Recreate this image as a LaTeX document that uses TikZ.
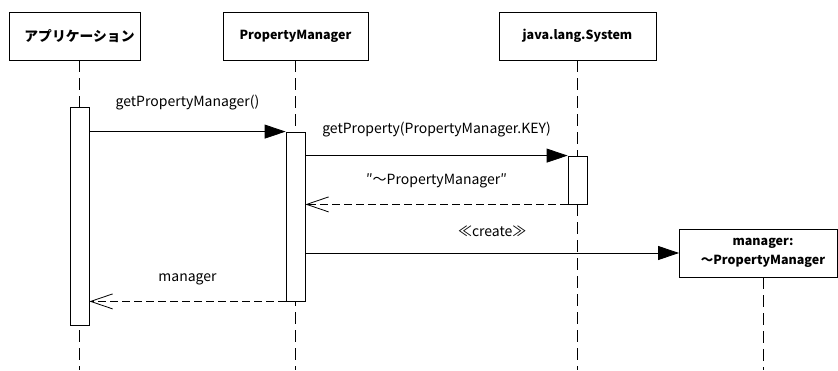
\documentclass[tikz,border=0pt]{standalone}
\usepackage{fontspec}
\newfontfamily\jpfont{Noto Sans CJK JP}
\usetikzlibrary{arrows.meta,positioning}

\begin{document}
\begin{tikzpicture}[x=1pt, y=-1pt,
    every node/.style={font=\jpfont\fontsize{14}{17}\selectfont},
    objbox/.style={draw, line width=0.9pt, minimum height=48pt, inner sep=0pt,
      font=\jpfont\bfseries\fontsize{12.5}{19}\selectfont},
    actbox/.style={draw, fill=white, line width=0.8pt, minimum width=19pt, inner sep=0pt},
    lifeline/.style={line width=0.8pt, dash pattern=on 12pt off 6pt},
    callmsg/.style={line width=0.8pt, -{Triangle[length=21pt,width=14pt]}},
    retmsg/.style={line width=0.8pt, dash pattern=on 8pt off 4pt,
      -{Straight Barb[length=22pt,width=15pt,line width=0.8pt]}},
    msglabel/.style={midway, above=13pt}]
  \useasboundingbox (0,0) rectangle (838,370);

  % objects
  \node[objbox, minimum width=131pt] (app) at (74.5,36)
    {\hspace*{10pt}\fontsize{13.8}{19}\selectfont アプリケーション};
  \node[objbox, minimum width=145pt] (pm) at (295.5,36) {PropertyManager};
  \node[objbox, minimum width=157pt] (sys) at (577.5,36) {java.lang.System};
  \node[objbox, minimum width=158pt, align=center] (mgr) at (758.5,253)
    {\hspace*{9pt}manager:\\\hspace*{9pt}～PropertyManager};

  % lifelines
  \foreach \obj/\x in {app/79.5, pm/295.5, sys/577.5, mgr/763}{
    \coordinate (\obj-end) at (\x,370);
    \draw[lifeline] (\obj-end |- \obj.south) -- (\obj-end);
  }

  % activations
  \node[actbox, minimum height=218pt] (actApp) at (79.5,216) {};
  \node[actbox, minimum height=169pt] (actPM) at (295.5,216.5) {};
  \node[actbox, minimum height=48pt] (actSys) at (577.5,180) {};

  % messages
  \draw[callmsg] (actApp.east |- actPM.north) -- node[msglabel, above=18pt] {getPropertyManager()} (actPM.north west);
  \draw[callmsg] (actPM.east |- actSys.north) -- node[msglabel, above=15pt] {getProperty(PropertyManager.KEY)} (actSys.north west);
  \draw[retmsg] (actSys.south west) -- node[msglabel] {″～PropertyManager″} (actPM.east |- actSys.south);
  \draw[callmsg] (actPM.east |- mgr.west) -- node[msglabel] {≪create≫} (mgr.west);
  \draw[retmsg] (actPM.south west) -- node[msglabel] {manager} (actApp.east |- actPM.south);
\end{tikzpicture}
\end{document}
